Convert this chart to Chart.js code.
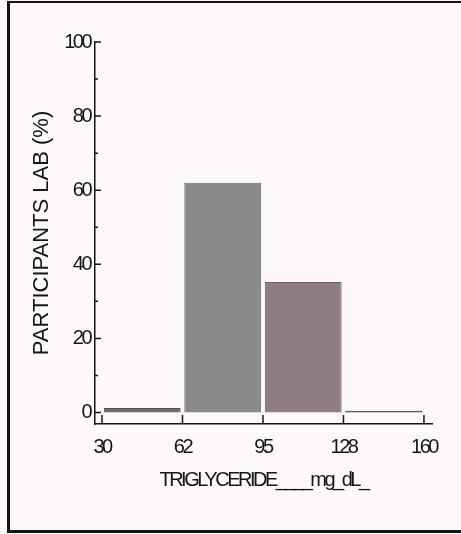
<!DOCTYPE html>
<html>
<head>
<meta charset="utf-8">
<script src="https://cdn.jsdelivr.net/npm/chart.js@4.4.1/dist/chart.umd.min.js"></script>
<style>
html, body { margin:0; padding:0; background:#fdf8fa; }
#wrap { position:relative; width:461px; height:534px; }
#frame { position:absolute; left:7px; top:1px; width:460px; height:532px; box-sizing:border-box;
         border-left:3px solid #151515; border-top:2px solid #151515; border-bottom:3px solid #151515; pointer-events:none; }
</style>
</head>
<body>
<div id="wrap">
  <canvas id="myChart" width="461" height="534"></canvas>
  <div id="frame"></div>
</div>
<script>
// bin edges (mg/dL) and % of participating labs per bin
var binEdges = ['30', '62', '95', '128', '160'];
var binValues = [1.2, 62, 35.2, 0.5];
var binColors = ['#766770', '#8b8a8a', '#8e7d85', '#3c3a3b'];
var binBorders = ['#5a4c54', '#6e6d6d', '#6f5f67', '#2a2a2a'];
var yTicks = [0, 20, 40, 60, 80, 100];
var yMinorTicks = [10, 30, 50, 70, 90];

var sans = "'Liberation Sans', Arial, sans-serif";
var ink = '#151515';

// bars centred between the edges
var barData = [];
for (var i = 0; i < binValues.length; i++) {
	barData.push({ x: i + 0.5, y: binValues[i] });
}

// narrow lettering for ticks / x title (the scan uses a condensed face)
// the y title lives on its own axis drawn after the datasets, at normal spacing
var letterPlugin = {
	id: 'letters',
	beforeDraw: function(chart) { chart.ctx.letterSpacing = '-2.5px'; },
	afterDatasetsDraw: function(chart) {
		var ctx = chart.ctx;
		var xs = chart.scales.x, ys = chart.scales.y;
		var ax = xs.left, ay = ys.bottom;
		// ticks on the inner side of the axes
		ctx.save();
		ctx.strokeStyle = ink;
		ctx.lineWidth = 1.5;
		ctx.beginPath();
		yTicks.forEach(function(v) {
			var p = ys.getPixelForValue(v);
			ctx.moveTo(ax, p); ctx.lineTo(ax + 6, p);
		});
		yMinorTicks.forEach(function(v) {
			var p = ys.getPixelForValue(v);
			ctx.moveTo(ax, p); ctx.lineTo(ax + 3, p);
		});
		binEdges.forEach(function(e, k) {
			var p = xs.getPixelForValue(k);
			ctx.moveTo(p, ay); ctx.lineTo(p, ay - 9);
		});
		ctx.stroke();
		ctx.restore();
		ctx.letterSpacing = '0px';
	},
	afterDraw: function(chart) { chart.ctx.letterSpacing = '0px'; }
};

var ctx = document.getElementById('myChart').getContext('2d');
var myChart = new Chart(ctx, {
	type: 'bar',
	data: {
		datasets: [{
			data: barData,
			base: 0,
			backgroundColor: binColors,
			borderColor: binBorders,
			borderWidth: 1,
			barPercentage: 0.955,
			categoryPercentage: 1
		}]
	},
	options: {
		responsive: false,
		animation: false,
		layout: { padding: { top: 42, right: 29, left: 0, bottom: 0 } },
		plugins: { legend: { display: false }, tooltip: { enabled: false } },
		scales: {
			x: {
				type: 'linear',
				offset: false,
				min: -0.087,
				max: 4.1,
				afterBuildTicks: function(s) {
					s.ticks = binEdges.map(function(e, k) { return { value: k }; });
				},
				afterFit: function(s) { s.height = 110; },
				grid: { display: false, drawTicks: false },
				border: { color: ink, width: 1.5 },
				ticks: {
					padding: 11,
					color: ink,
					font: { family: sans, size: 20 },
					autoSkip: false,
					maxRotation: 0,
					callback: function(v) { return binEdges[v]; }
				},
				title: {
					display: true,
					text: 'TRIGLYCERIDE____mg_dL_',
					color: ink,
					font: { family: sans, size: 20 },
					padding: { top: 0, bottom: 42 }
				}
			},
			y: {
				min: -3.1,
				max: 100,
				afterBuildTicks: function(s) {
					s.ticks = yTicks.map(function(v) { return { value: v }; });
				},
				afterFit: function(s) { s.width = 35; },
				grid: { display: false, drawTicks: false },
				border: { color: ink, width: 1.5 },
				ticks: {
					padding: 5,
					color: ink,
					font: { family: sans, size: 20 }
				}
			},
			yTitle: {
				position: 'left',
				weight: 1,
				afterFit: function(s) { s.width = 60; },
				grid: { display: false, drawTicks: false, z: 1 },
				border: { display: false, z: 1 },
				ticks: { display: false, z: 1 },
				title: {
					display: true,
					text: 'PARTICIPANTS LAB (%)',
					color: ink,
					font: { family: sans, size: 22 },
					padding: { top: 29, bottom: 0 }
				}
			}
		}
	},
	plugins: [letterPlugin]
});
</script>
</body>
</html>
